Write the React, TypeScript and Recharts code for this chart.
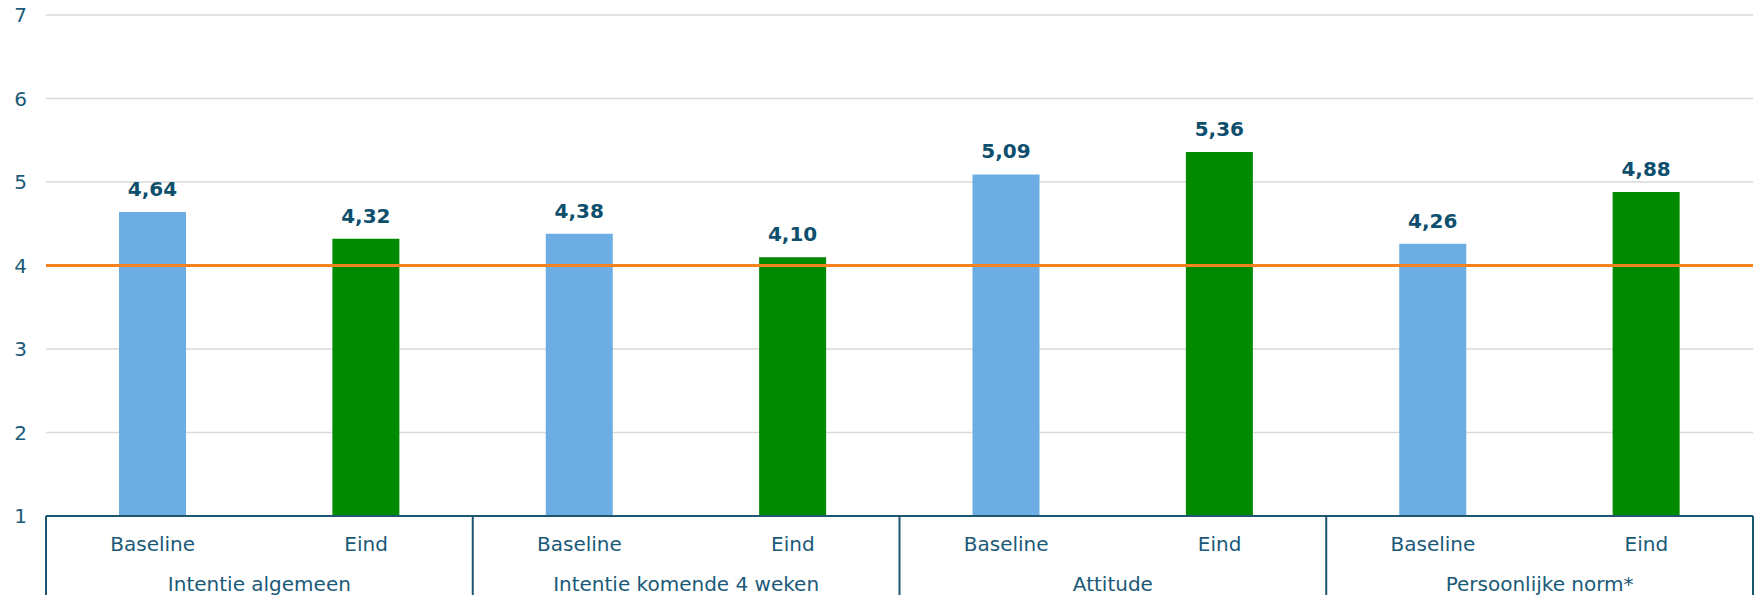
import { BarChart, Bar, XAxis, YAxis, CartesianGrid, ReferenceLine, LabelList, Cell } from "recharts";

const groups = ["Intentie algemeen", "Intentie komende 4 weken", "Attitude", "Persoonlijke norm*"];
const phases = ["Baseline", "Eind"];
const baselineValues = [4.64, 4.38, 5.09, 4.26];
const eindValues = [4.32, 4.1, 5.36, 4.88];
const yTicks = [1, 2, 3, 4, 5, 6, 7];
const norm = 4;

const W = 1758;
const H = 595;
const FONT = "Verdana, 'DejaVu Sans', sans-serif";
const TEAL = "#1A5A78";
const LINE = "#1D5670";
const colors: Record<string, string> = { Baseline: "#6CADE3", Eind: "#008A00" };

const rows = groups.flatMap((g, i) => [
  { key: `${i}-b`, phase: phases[0], group: g, value: baselineValues[i] },
  { key: `${i}-e`, phase: phases[1], group: g, value: eindValues[i] },
]);

const plotLeft = 46;
const plotRight = 5;
const slot = (W - plotLeft - plotRight) / rows.length;

function GroupTick(props: any) {
  const { x, y, payload, index } = props;
  const first = index % 2 === 0;
  const last = index === rows.length - 1;
  return (
    <g>
      {first && (
        <>
          <line x1={x - slot / 2} x2={x - slot / 2} y1={y - 50} y2={y + 29} stroke={LINE} strokeWidth={2} />
          <text x={x + slot / 2} y={y + 25} textAnchor="middle" fill={TEAL} fontSize={20} fontFamily={FONT}>
            {payload.value}
          </text>
        </>
      )}
      {last && <line x1={x + slot / 2} x2={x + slot / 2} y1={y - 50} y2={y + 29} stroke={LINE} strokeWidth={2} />}
    </g>
  );
}

export default function App() {
  return (
    <div style={{ position: "absolute", left: 0, top: 0, width: W, height: H, background: "#fff" }}>
      <BarChart width={W} height={H} data={rows} margin={{ top: 15, right: plotRight, bottom: 0, left: 0 }}>
        <CartesianGrid vertical={false} stroke="#D9D9D9" strokeWidth={1.5} />
        <YAxis
          domain={[1, 7]}
          ticks={yTicks}
          width={plotLeft}
          axisLine={false}
          tickLine={false}
          tickMargin={13}
          tick={{ fill: TEAL, fontSize: 20, fontFamily: FONT }}
        />
        <XAxis
          xAxisId={0}
          dataKey="phase"
          height={50}
          tickLine={false}
          tickSize={0}
          tickMargin={21}
          interval={0}
          axisLine={{ stroke: LINE, strokeWidth: 2 }}
          tick={{ fill: TEAL, fontSize: 20, fontFamily: FONT }}
        />
        <XAxis
          xAxisId={1}
          dataKey="group"
          height={29}
          axisLine={false}
          tickLine={false}
          tickSize={0}
          tickMargin={0}
          interval={0}
          tick={<GroupTick />}
        />
        <Bar dataKey="value" xAxisId={0} barSize={67} isAnimationActive={false}>
          {rows.map((r) => (
            <Cell key={r.key} fill={colors[r.phase]} />
          ))}
          <LabelList
            dataKey="value"
            position="top"
            offset={16}
            fill="#0F4F6E"
            fontSize={20}
            fontWeight="bold"
            fontFamily={FONT}
            formatter={(v: any) => Number(v).toFixed(2).replace(".", ",")}
          />
        </Bar>
        <ReferenceLine y={norm} xAxisId={0} stroke="#F5821F" strokeWidth={3} />
      </BarChart>
    </div>
  );
}
